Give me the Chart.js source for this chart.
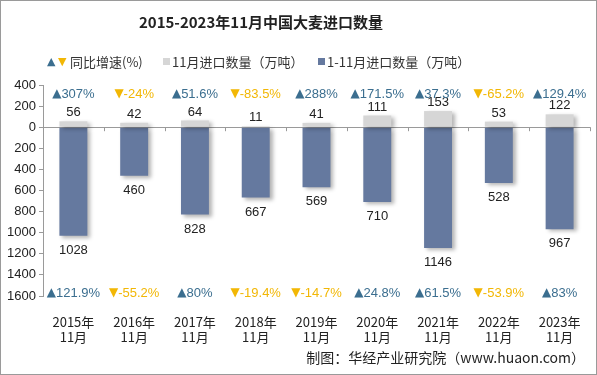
<!DOCTYPE html>
<html>
<head>
<meta charset="utf-8">
<title>2015-2023年11月中国大麦进口数量</title>
<style>
  html, body { margin: 0; padding: 0; background: #fff; }
  #wrap { width: 597px; height: 375px; position: relative; }
</style>
</head>
<body>
<div id="wrap"><canvas id="barleyChart" width="597" height="375"></canvas></div>
<script src="https://cdn.jsdelivr.net/npm/chart.js"></script>
<script>
// data
const years = ['2015年', '2016年', '2017年', '2018年', '2019年', '2020年', '2021年', '2022年', '2023年'];
const novImport = [56, 42, 64, 11, 41, 111, 153, 53, 122];          // 11月进口数量（万吨）
const cumImport = [1028, 460, 828, 667, 569, 710, 1146, 528, 967];  // 1-11月进口数量（万吨）
const novGrowth = [307, -24, 51.6, -83.5, 288, 171.5, 37.3, -65.2, 129.4];
const cumGrowth = [121.9, -55.2, 80, -19.4, -14.7, 24.8, 61.5, -53.9, 83];
const yTicks = [400, 200, 0, -200, -400, -600, -800, -1000, -1200, -1400, -1600];

const labels = years.map(y => [y, '11月']);
const greyColor = '#D6D6D6';
const blueColor = '#65799F';
const upColor = '#3B6E8F';
const downColor = '#F2B705';
const latin = '"Liberation Sans", Arial, "DejaVu Sans", "Noto Sans CJK SC", sans-serif';
const cjk = '"Noto Sans CJK SC", "Liberation Sans", sans-serif';

const shadowPlugin = {
    id: 'barShadow',
    beforeDatasetsDraw(chart) {
        const ctx = chart.ctx;
        ctx.save();
        ctx.shadowColor = 'rgba(0,0,0,0.3)';
        ctx.shadowBlur = 4;
        ctx.shadowOffsetX = 3;
        ctx.shadowOffsetY = 2;
    },
    afterDatasetsDraw(chart) {
        chart.ctx.restore();
    }
};

const decorPlugin = {
    id: 'decor',
    afterDraw(chart) {
        const ctx = chart.ctx;
        const area = chart.chartArea;
        const x = chart.scales.x;
        ctx.save();

        // frame
        ctx.strokeStyle = '#9a9a9a';
        ctx.lineWidth = 1;
        ctx.strokeRect(0.5, 0.5, chart.width - 1, chart.height - 1);

        // title
        ctx.fillStyle = '#222';
        ctx.font = 'bold 15px ' + cjk;
        ctx.textAlign = 'center';
        ctx.textBaseline = 'middle';
        ctx.fillText('2015-2023年11月中国大麦进口数量', 261, 22);

        // legend
        ctx.textAlign = 'left';
        ctx.fillStyle = upColor;
        ctx.font = '11px "DejaVu Sans", sans-serif';
        ctx.fillText('▲', 47, 62);
        ctx.fillStyle = downColor;
        ctx.fillText('▼', 58, 62);
        ctx.font = '13px ' + cjk;
        ctx.fillStyle = '#333';
        ctx.fillText('同比增速(%)', 70, 62);
        ctx.fillStyle = greyColor;
        ctx.fillRect(163, 58, 7, 7);
        ctx.fillStyle = '#333';
        ctx.fillText('11月进口数量（万吨）', 172, 62);
        ctx.fillStyle = blueColor;
        ctx.fillRect(318, 58, 7, 7);
        ctx.fillStyle = '#333';
        ctx.fillText('1-11月进口数量（万吨）', 327, 62);

        // zero line ticks
        const y0 = chart.scales.y.getPixelForValue(0);
        ctx.strokeStyle = '#999';
        for (let i = 0; i <= years.length; i++) {
            const px = Math.round(area.left + (area.right - area.left) * i / years.length) + 0.5;
            ctx.beginPath();
            ctx.moveTo(px, y0);
            ctx.lineTo(px, y0 + 4);
            ctx.stroke();
        }

        // value labels
        const metaNov = chart.getDatasetMeta(0);
        const metaCum = chart.getDatasetMeta(1);
        ctx.font = '13px ' + latin;
        ctx.fillStyle = '#222';
        ctx.textAlign = 'center';
        metaNov.data.forEach((bar, i) => {
            ctx.textBaseline = 'bottom';
            ctx.fillText(String(novImport[i]), bar.x, bar.y - 2);
        });
        metaCum.data.forEach((bar, i) => {
            ctx.textBaseline = 'top';
            ctx.fillText(String(cumImport[i]), bar.x, bar.y + 8);
        });

        // growth labels
        const drawGrowth = (val, cx, cy) => {
            const up = val >= 0;
            const arrow = up ? '▲' : '▼';
            const text = String(val) + '%';
            ctx.font = '12px "DejaVu Sans", sans-serif';
            const aw = ctx.measureText(arrow).width;
            ctx.font = '13px ' + latin;
            const tw = ctx.measureText(text).width;
            const start = cx - (aw + tw) / 2;
            ctx.fillStyle = up ? upColor : downColor;
            ctx.textAlign = 'left';
            ctx.textBaseline = 'middle';
            ctx.font = '12px "DejaVu Sans", sans-serif';
            ctx.fillText(arrow, start, cy);
            ctx.font = '13px ' + latin;
            ctx.fillText(text, start + aw, cy);
        };
        years.forEach((_, i) => {
            const cx = x.getPixelForValue(i);
            drawGrowth(novGrowth[i], cx, area.top + 9);
            drawGrowth(cumGrowth[i], cx, area.bottom - 3);
        });

        // source
        ctx.fillStyle = '#222';
        ctx.font = '14px ' + cjk;
        ctx.textAlign = 'right';
        ctx.textBaseline = 'middle';
        ctx.fillText('制图：华经产业研究院（www.huaon.com）', 585, 358);

        ctx.restore();
    }
};

new Chart(document.getElementById('barleyChart'), {
    type: 'bar',
    data: {
        labels: labels,
        datasets: [{
            label: '11月进口数量（万吨）',
            data: novImport,
            backgroundColor: greyColor,
            barPercentage: 0.46,
            categoryPercentage: 1
        }, {
            label: '1-11月进口数量（万吨）',
            data: cumImport.map(v => -v),
            backgroundColor: blueColor,
            barPercentage: 0.46,
            categoryPercentage: 1
        }]
    },
    options: {
        responsive: false,
        animation: false,
        layout: { padding: { top: 85, right: 7, bottom: 0, left: 0 } },
        plugins: {
            legend: { display: false },
            tooltip: { enabled: false },
            title: { display: false }
        },
        scales: {
            x: {
                stacked: true,
                grid: { display: false },
                border: { display: false },
                afterFit(scale) { scale.height = 79; },
                ticks: {
                    color: '#222',
                    font: { size: 13, family: cjk, lineHeight: 1.2 },
                    padding: 10,
                    maxRotation: 0
                }
            },
            y: {
                stacked: true,
                min: -1600,
                max: 400,
                afterBuildTicks(scale) {
                    scale.ticks = yTicks.map(v => ({ value: v }));
                },
                afterFit(scale) { scale.width = 43; },
                grid: {
                    color: ctx => ctx.tick && ctx.tick.value === 0 ? '#9a9a9a' : 'rgba(0,0,0,0)',
                    drawTicks: true,
                    tickLength: 4,
                    tickColor: '#9a9a9a'
                },
                border: { display: true, color: '#9a9a9a' },
                ticks: {
                    color: '#222',
                    font: { size: 13, family: latin },
                    padding: 3,
                    callback: v => Math.abs(v)
                }
            }
        }
    },
    plugins: [shadowPlugin, decorPlugin]
});
</script>
</body>
</html>
